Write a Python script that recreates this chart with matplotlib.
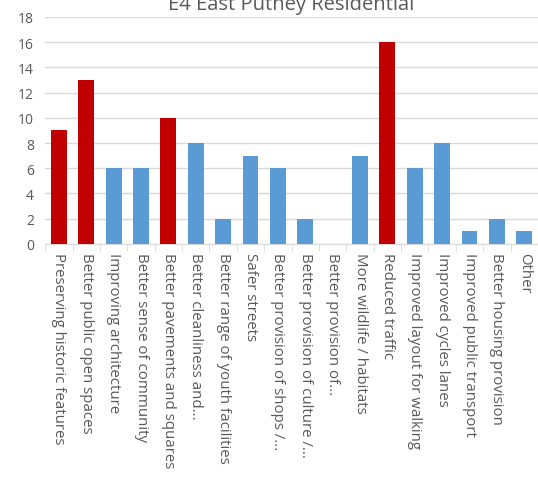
import matplotlib.pyplot as plt
import numpy as np

categories = ["Preserving historic features", "Better public open spaces", "Improving architecture",
              "Better sense of community", "Better pavements and squares", "Better cleanliness and...",
              "Better range of youth facilities", "Safer streets", "Better provision of shops /...",
              "Better provision of culture /...", "Better provision of...", "More wildlife / habitats",
              "Reduced traffic", "Improved layout for walking", "Improved cycles lanes",
              "Improved public transport", "Better housing provision", "Other"]
values = [9, 13, 6, 6, 10, 8, 2, 7, 6, 2, 0, 7, 16, 6, 8, 1, 2, 1]
highlight = [True, True, False, False, True, False, False, False, False, False, False, False,
             True, False, False, False, False, False]

red = "#C00000"
blue = "#5B9BD5"
grey = "#595959"
colors = [red if h else blue for h in highlight]

plt.rcParams['font.family'] = ['Open Sans', 'DejaVu Sans']
fig = plt.figure(figsize=(5.38, 4.81), dpi=100)
ax = fig.add_axes([0.084, 0.491, 0.916, 0.4716])

x = np.arange(len(categories))
ax.bar(x, values, width=0.58, color=colors, zorder=3)

ax.set_xlim(-0.5, len(categories) - 0.5)
ax.set_ylim(0, 18)
ax.set_yticks(range(0, 19, 2))
ax.yaxis.grid(True, color="#D9D9D9", linewidth=1, zorder=0)
ax.tick_params(axis='y', length=0, labelsize=10, labelcolor=grey, pad=8)

ax.set_xticks(x)
ax.set_xticklabels(categories, rotation=-90, fontsize=10.8, color=grey, va='top', ha='center')
ax.tick_params(axis='x', which='major', length=0, pad=6)
ax.set_xticks(np.arange(-0.5, len(categories), 1), minor=True)
ax.tick_params(axis='x', which='minor', length=5, color="#D9D9D9")

for s in ['top', 'right', 'left']:
    ax.spines[s].set_visible(False)
ax.spines['bottom'].set_color("#D9D9D9")

ax.set_title("E4 East Putney Residential", fontsize=14.5, color=grey, pad=6)

fig.savefig("out.png")
